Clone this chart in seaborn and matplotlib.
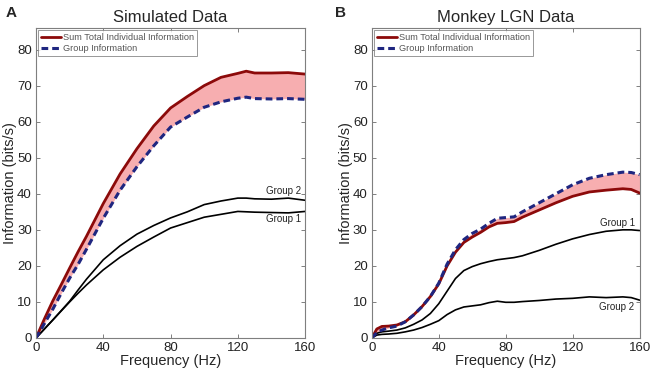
import numpy as np
import matplotlib
matplotlib.use("Agg")
import matplotlib.pyplot as plt
import seaborn as sns
from matplotlib.lines import Line2D

# Panel A - simulated data
freq_a = [0, 5, 10, 15, 20, 25, 30, 40, 50, 60, 70, 80, 90, 100, 110, 120, 125, 130, 140, 150, 160]
sum_a = [0, 5.3, 10.3, 14.8, 19.4, 23.9, 28.2, 37.3, 45.5, 52.5, 58.8, 63.8, 67, 70, 72.3, 73.4,
         74, 73.5, 73.5, 73.6, 73.2]
group_a = [0, 4, 8, 12.4, 16.6, 20.4, 24.6, 33.2, 41, 47.5, 53.3, 58.5, 61.3, 64, 65.5, 66.5,
           66.8, 66.4, 66.3, 66.4, 66.2]
g2_a = [0, 2.5, 5, 7.6, 10.2, 13.3, 16.3, 21.7, 25.6, 28.8, 31.2, 33.3, 35, 37, 38, 38.8,
        38.8, 38.6, 38.5, 38.8, 38.2]
g1_a = [0, 2.5, 5, 7.5, 10, 12.4, 14.7, 18.9, 22.4, 25.4, 28, 30.5, 32, 33.5, 34.3, 35.1,
        35, 34.9, 34.8, 34.7, 35.1]

# Panel B - monkey LGN data
freq_b = [0, 3, 6, 10, 15, 20, 25, 30, 35, 40, 45, 50, 55, 60, 65, 70, 75, 80, 85, 90,
          100, 110, 120, 130, 140, 150, 155, 160]
sum_b = [0, 2.5, 3.2, 3.3, 3.6, 4.5, 6.4, 8.7, 11.5, 15, 20, 23.8, 26.5, 28, 29.3, 30.8, 31.8, 32,
         32.3, 33.5, 35.5, 37.5, 39.3, 40.5, 41, 41.4, 41.2, 40.2]
group_b = [0, 1.5, 2.2, 2.8, 3.3, 4.5, 6.4, 8.7, 11.5, 15.2, 20.5, 24.5, 27.3, 29, 30.2, 31.8, 33.2,
           33.4, 33.6, 35, 37.5, 40, 42.5, 44.3, 45.3, 46, 45.9, 45.3]
g1_b = [0, 1.3, 1.7, 1.9, 2.2, 2.8, 3.8, 5, 6.8, 9.5, 13, 16.5, 18.7, 19.8, 20.6, 21.2, 21.7, 22,
        22.3, 22.8, 24.3, 26, 27.5, 28.7, 29.6, 30, 30, 29.8]
g2_b = [0, 0.8, 1, 1.1, 1.3, 1.7, 2.2, 2.9, 3.8, 4.8, 6.5, 7.8, 8.6, 8.9, 9.2, 9.8, 10.2, 9.9, 9.9,
        10.1, 10.4, 10.8, 11, 11.4, 11.2, 11.4, 11.2, 10.5]

sns.set_style("ticks")
plt.rcParams['font.family'] = ['Liberation Sans', 'DejaVu Sans']

RED = "#8c0a0a"
BLUE = "#1f2680"
PINK = "#f7aeb0"
FRAME = "#7f7f7f"


def panel(ax, freq, s, g, grp1, grp2, title, letter, lab1, lab2):
    ax.fill_between(freq, s, g, color=PINK, lw=0)
    sns.lineplot(x=freq, y=grp1, ax=ax, color="black", lw=1.2)
    sns.lineplot(x=freq, y=grp2, ax=ax, color="black", lw=1.2)
    sns.lineplot(x=freq, y=s, ax=ax, color=RED, lw=2.0)
    sns.lineplot(x=freq, y=g, ax=ax, color=BLUE, lw=2.2, linestyle=(0, (2.2, 1.3)))
    ax.set_xlim(0, 160)
    ax.set_ylim(0, 86)
    ax.set_xticks([0, 40, 80, 120, 160])
    ax.set_yticks(range(0, 81, 10))
    ax.tick_params(direction="in", length=3, width=0.7, color=FRAME, top=True, right=True,
                   labelsize=9.5, labelcolor="#222222", pad=3)
    for sp in ax.spines.values():
        sp.set_visible(True)
        sp.set_color(FRAME)
        sp.set_linewidth(0.8)
    ax.set_title(title, fontsize=12, pad=4)
    ax.set_xlabel("Frequency (Hz)", fontsize=10.5, labelpad=0)
    ax.set_ylabel("Information (bits/s)", fontsize=10.5)
    ax.yaxis.set_label_coords(-0.072, 0.5)
    handles = [Line2D([], [], color=RED, lw=2.0),
               Line2D([], [], color=BLUE, lw=2.2, linestyle=(0, (2.2, 1.3)))]
    leg = ax.legend(handles, ["Sum Total Individual Information", "Group Information"],
                    loc="upper left", fontsize=6.6, frameon=True, fancybox=False,
                    borderaxespad=0.25, handlelength=2.2, handletextpad=0.2,
                    labelspacing=0.2, borderpad=0.3, labelcolor="#555555")
    leg.get_frame().set_edgecolor(FRAME)
    leg.get_frame().set_linewidth(0.7)
    ax.text(lab1[0], lab1[1], lab1[2], fontsize=7, ha="center", va="center", color="#222222")
    ax.text(lab2[0], lab2[1], lab2[2], fontsize=7, ha="center", va="center", color="#222222")
    ax.figure.text(letter[0], letter[1], letter[2], fontsize=11, fontweight="bold", va="top")


fig = plt.figure(figsize=(6.5, 3.74), dpi=100)
ax1 = fig.add_axes([0.0554, 0.0963, 0.414, 0.829])
ax2 = fig.add_axes([0.572, 0.0963, 0.412, 0.829])

panel(ax1, freq_a, sum_a, group_a, g1_a, g2_a, "Simulated Data", (0.008, 0.985, "A"),
      (147, 40.7, "Group 2"), (147, 33, "Group 1"))
panel(ax2, freq_b, sum_b, group_b, g1_b, g2_b, "Monkey LGN Data", (0.515, 0.985, "B"),
      (147, 32, "Group 1"), (146, 8.6, "Group 2"))

fig.savefig("out.png", dpi=100)
